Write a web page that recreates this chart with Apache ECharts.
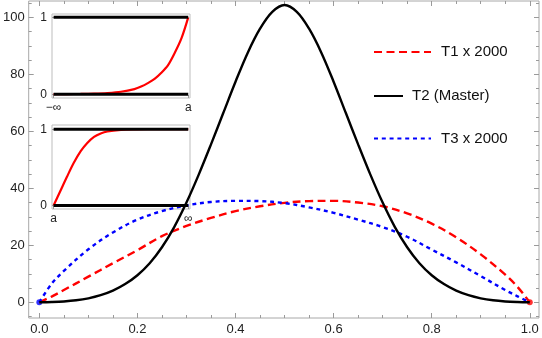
<!DOCTYPE html>
<html>
<head>
<meta charset="utf-8">
<script src="https://cdn.jsdelivr.net/npm/echarts@6/dist/echarts.min.js"></script>
<style>
  html, body { margin: 0; padding: 0; background: #fff; }
  #chart { width: 542px; height: 338px; }
</style>
</head>
<body>
<div id="chart"></div>
<script>
// main plot: three curves on [0, 1]
const t2X = [0, 0.025, 0.05, 0.075, 0.1, 0.125, 0.15, 0.175, 0.2, 0.225, 0.25, 0.275, 0.3, 0.325, 0.35, 0.375, 0.4, 0.425, 0.45, 0.475, 0.5,
  0.525, 0.55, 0.575, 0.6, 0.625, 0.65, 0.675, 0.7, 0.725, 0.75, 0.775, 0.8, 0.825, 0.85, 0.875, 0.9, 0.925, 0.95, 0.975, 1];
const t2Values = [0, 0.1, 0.3, 0.7, 1.4, 2.5, 4.1, 6.4, 9.5, 13.7, 19.3, 26.4, 35.0, 44.8, 55.4, 66.4, 77.4, 87.6, 96.0, 101.9, 104.3,
  101.9, 96.0, 87.6, 77.4, 66.4, 55.4, 44.8, 35.0, 26.4, 19.3, 13.7, 9.5, 6.4, 4.1, 2.5, 1.4, 0.7, 0.3, 0.1, 0];

const t13X = [0, 0.025, 0.05, 0.1, 0.15, 0.2, 0.25, 0.3, 0.35, 0.4, 0.45, 0.5, 0.55, 0.6, 0.65, 0.7, 0.75, 0.8, 0.85, 0.9, 0.95, 0.975, 1];
const t1Values = [0, 2.0, 4.3, 9.0, 13.7, 18.3, 23.2, 26.8, 29.6, 32.0, 33.7, 34.9, 35.5, 35.6, 35.0, 33.7, 31.2, 27.6, 22.8, 16.8, 9.7, 5.4, 0];
const t3Values = [0, 6.5, 11.0, 18.6, 24.5, 29.0, 32.0, 34.0, 35.2, 35.6, 35.5, 34.8, 33.3, 31.4, 29.0, 26.4, 23.0, 18.5, 14.0, 9.2, 4.3, 2.1, 0];

const xMajor = [0, 0.2, 0.4, 0.6, 0.8, 1.0];
const xMinor = [0.05, 0.1, 0.15, 0.25, 0.3, 0.35, 0.45, 0.5, 0.55, 0.65, 0.7, 0.75, 0.85, 0.9, 0.95];
const yMajor = [0, 20, 40, 60, 80, 100];
const yMinor = [-5, 5, 10, 15, 25, 30, 35, 45, 50, 55, 65, 70, 75, 85, 90, 95, 105];

// insets
const inset1X = [0, 0.1, 0.2, 0.3, 0.4, 0.5, 0.6, 0.65, 0.7, 0.75, 0.8, 0.85, 0.9, 0.95, 1];
const inset1Red = [0.002, 0.003, 0.005, 0.009, 0.017, 0.033, 0.068, 0.1, 0.145, 0.2, 0.28, 0.38, 0.54, 0.73, 1];
const inset2X = [0, 0.05, 0.1, 0.15, 0.2, 0.25, 0.3, 0.35, 0.4, 0.5, 0.6, 0.7, 0.8, 1];
const inset2Red = [0, 0.19, 0.38, 0.56, 0.71, 0.82, 0.9, 0.945, 0.97, 0.99, 0.997, 1, 1, 1];
const insetTicks = [0, 1];
const inset1XLabels = ['\u2212\u221e', 'a'];
const inset2XLabels = ['a', '\u221e'];
const insetYLabels = ['0', '1'];

const FONT = "'Liberation Sans', Arial, sans-serif";
const FRAME = '#a8a8a8';
const TICK = '#9a9a9a';

function zip(xs, ys) {
  return xs.map(function (x, i) { return [x, ys[i]]; });
}

function tickAxis(extra) {
  return Object.assign({
    type: 'value',
    gridIndex: 0,
    axisLine: { show: false, onZero: false },
    splitLine: { show: false },
    axisLabel: { show: false }
  }, extra);
}

function ticks(values, len) {
  return { show: true, inside: true, length: len, customValues: values, lineStyle: { color: TICK, width: 1 } };
}

const chart = echarts.init(document.getElementById('chart'));

const mainX = { min: -0.0217, max: 1.0188 };
const mainY = { min: -5.51, max: 105.72 };

const xAxes = [
  tickAxis(Object.assign({
    position: 'bottom',
    axisTick: ticks(xMajor, 5),
    axisLabel: {
      show: true, customValues: xMajor, margin: 5, fontSize: 13, fontFamily: FONT, color: '#222',
      formatter: function (v) { return Number(v).toFixed(1); }
    }
  }, mainX)),
  tickAxis(Object.assign({ position: 'bottom', axisTick: ticks(xMinor, 3) }, mainX)),
  tickAxis(Object.assign({ position: 'top', axisTick: ticks(xMajor, 5) }, mainX)),
  tickAxis(Object.assign({ position: 'top', axisTick: ticks(xMinor, 3) }, mainX)),
  tickAxis({
    gridIndex: 1, position: 'bottom', min: -0.012, max: 1.013,
    axisTick: ticks(insetTicks, 3),
    axisLabel: {
      show: true, customValues: insetTicks, margin: 4, fontSize: 12, fontFamily: FONT, color: '#222',
      formatter: function (v) { return inset1XLabels[insetTicks.indexOf(v)]; }
    }
  }),
  tickAxis({
    gridIndex: 2, position: 'bottom', min: -0.012, max: 1.013,
    axisTick: ticks(insetTicks, 3),
    axisLabel: {
      show: true, customValues: insetTicks, margin: 4, fontSize: 12, fontFamily: FONT, color: '#222',
      formatter: function (v) { return inset2XLabels[insetTicks.indexOf(v)]; }
    }
  })
];

const yAxes = [
  tickAxis(Object.assign({
    position: 'left',
    axisTick: ticks(yMajor, 5),
    axisLabel: { show: true, customValues: yMajor, margin: 4, fontSize: 13, fontFamily: FONT, color: '#222' }
  }, mainY)),
  tickAxis(Object.assign({ position: 'left', axisTick: ticks(yMinor, 3) }, mainY)),
  tickAxis(Object.assign({ position: 'right', axisTick: ticks(yMajor, 5) }, mainY)),
  tickAxis(Object.assign({ position: 'right', axisTick: ticks(yMinor, 3) }, mainY)),
  tickAxis({
    gridIndex: 1, position: 'left', min: -0.048, max: 1.043,
    axisTick: ticks(insetTicks, 3),
    axisLabel: {
      show: true, customValues: insetTicks, margin: 5, fontSize: 12, fontFamily: FONT, color: '#222',
      formatter: function (v) { return insetYLabels[insetTicks.indexOf(v)]; }
    }
  }),
  tickAxis({
    gridIndex: 2, position: 'left', min: -0.045, max: 1.055,
    axisTick: ticks(insetTicks, 3),
    axisLabel: {
      show: true, customValues: insetTicks, margin: 5, fontSize: 12, fontFamily: FONT, color: '#222',
      formatter: function (v) { return insetYLabels[insetTicks.indexOf(v)]; }
    }
  })
];

function legendFor(name, top, width, gap) {
  return {
    data: [name],
    left: 373,
    top: top - 8,
    padding: 0,
    itemWidth: width,
    itemHeight: 16,
    selectedMode: false,
    itemStyle: { opacity: 0 },
    textStyle: { fontSize: 15, fontFamily: FONT, color: '#111', padding: [0, 0, 0, gap] }
  };
}

function insetLine(grid, data, color, width) {
  return {
    type: 'line', xAxisIndex: grid + 3, yAxisIndex: grid + 3,
    data: data, symbol: 'none', smooth: 0.3, silent: true,
    lineStyle: { color: color, width: width }
  };
}

chart.setOption({
  animation: false,
  backgroundColor: '#fff',
  grid: [
    { left: 25, top: 1, right: 3, bottom: 20, show: true, borderColor: FRAME, borderWidth: 1, backgroundColor: 'transparent' },
    { left: 52, top: 14, width: 138, height: 84, show: true, borderColor: '#bdbdbd', borderWidth: 1, backgroundColor: 'transparent' },
    { left: 52, top: 125, width: 138, height: 84, show: true, borderColor: '#bdbdbd', borderWidth: 1, backgroundColor: 'transparent' }
  ],
  xAxis: xAxes,
  yAxis: yAxes,
  legend: [
    legendFor('T1 x 2000', 52.5, 57, 5),
    legendFor('T2 (Master)', 96.5, 29, 4),
    legendFor('T3 x 2000', 139, 57, 5)
  ],
  series: [
    {
      name: 'T1 x 2000', type: 'line', xAxisIndex: 0, yAxisIndex: 0,
      data: zip(t13X, t1Values), symbol: 'none', smooth: 0.35,
      itemStyle: { color: '#ff0000' },
      lineStyle: { color: '#ff0000', width: 2.4, type: [8, 4.5] }
    },
    {
      name: 'T3 x 2000', type: 'line', xAxisIndex: 0, yAxisIndex: 0,
      data: zip(t13X, t3Values), symbol: 'none', smooth: 0.35,
      itemStyle: { color: '#0000ff' },
      lineStyle: { color: '#0000ff', width: 2.4, type: [4, 3.8] }
    },
    {
      name: 'T2 (Master)', type: 'line', xAxisIndex: 0, yAxisIndex: 0,
      data: zip(t2X, t2Values), symbol: 'none', smooth: 0.35,
      itemStyle: { color: '#000' },
      lineStyle: { color: '#000', width: 2.4 }
    },
    {
      type: 'scatter', xAxisIndex: 0, yAxisIndex: 0, symbolSize: 6,
      data: [[t13X[0], t3Values[0]]], itemStyle: { color: '#0000ff' }
    },
    {
      type: 'scatter', xAxisIndex: 0, yAxisIndex: 0, symbolSize: 6,
      data: [[t13X[t13X.length - 1], t1Values[t1Values.length - 1]]], itemStyle: { color: '#ff0000' }
    },
    insetLine(1, zip(inset1X, inset1Red), '#ff0000', 2.2),
    insetLine(1, zip(insetTicks, [0, 0]), '#000', 3),
    insetLine(1, zip(insetTicks, [1, 1]), '#000', 3),
    insetLine(2, zip(inset2X, inset2Red), '#ff0000', 2.2),
    insetLine(2, zip(insetTicks, [0, 0]), '#000', 3),
    insetLine(2, zip(insetTicks, [1, 1]), '#000', 3)
  ]
});
</script>
</body>
</html>
